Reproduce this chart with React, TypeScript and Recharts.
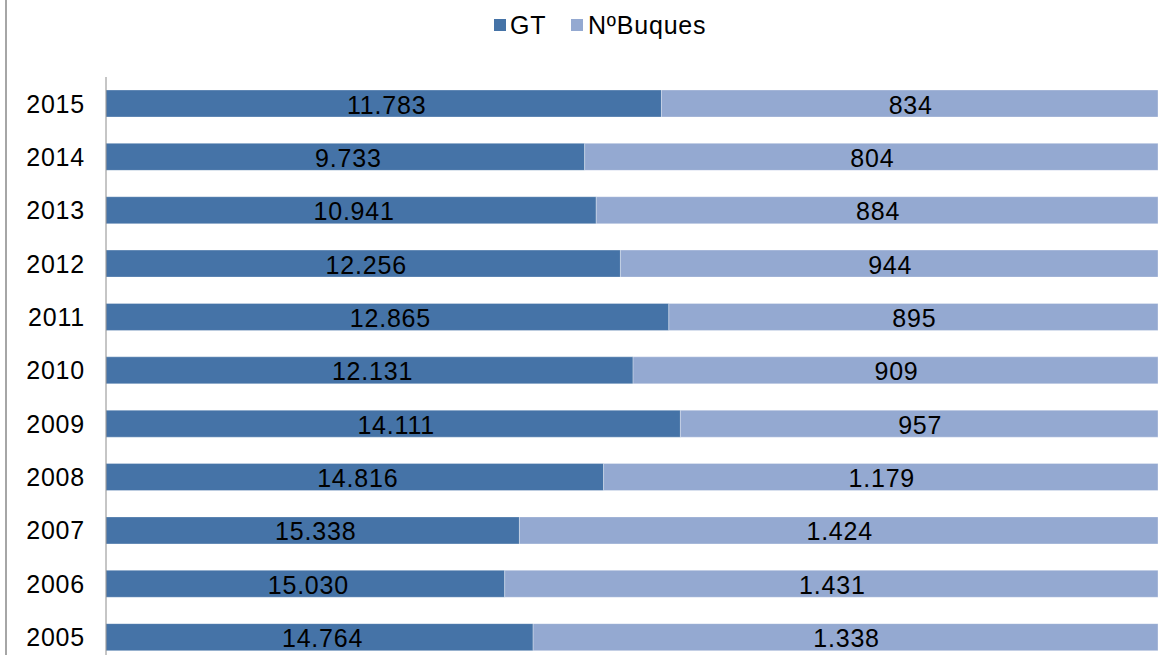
import { BarChart, Bar, XAxis, YAxis, LabelList } from "recharts";

// years top to bottom, as in the picture
const YEARS = ["2015", "2014", "2013", "2012", "2011", "2010", "2009", "2008", "2007", "2006", "2005"];

// printed values on the bars
const GT_LABELS = ["11.783", "9.733", "10.941", "12.256", "12.865", "12.131", "14.111", "14.816", "15.338", "15.030", "14.764"];
const BUQUES_LABELS = ["834", "804", "884", "944", "895", "909", "957", "1.179", "1.424", "1.431", "1.338"];

// share of each bar (%)
const GT_SHARE = [52.8, 45.5, 46.6, 48.9, 53.5, 50.1, 54.6, 47.3, 39.3, 37.9, 40.6];
const BUQUES_SHARE = [47.2, 54.5, 53.4, 51.1, 46.5, 49.9, 45.4, 52.7, 60.7, 62.1, 59.4];

const data = YEARS.map((year, i) => ({
  year,
  gt: GT_SHARE[i],
  buques: BUQUES_SHARE[i],
}));

const FONT = "'Liberation Sans', Arial, sans-serif";
const GT_COLOR = "#4573A7";
const BUQUES_COLOR = "#94A9D1";

function makeLabel(labels: string[], dx: number) {
  return (props: any) => {
    const { x, y, width, height, index } = props;
    return (
      <text
        x={Number(x) + Number(width) / 2 + dx}
        y={Number(y) + Number(height) / 2 + 1}
        textAnchor="middle"
        dominantBaseline="central"
        fontSize={25}
        letterSpacing={0.8}
        fontFamily={FONT}
        fill="#000"
      >
        {labels[index]}
      </text>
    );
  };
}

const legendText = {
  position: "absolute" as const,
  top: 10,
  lineHeight: "30px",
  fontFamily: FONT,
  fontSize: 25,
  letterSpacing: 0.8,
  color: "#000",
  whiteSpace: "nowrap" as const,
};

export default function App() {
  return (
    <div style={{ position: "absolute", left: 0, top: 0, width: 1160, height: 655, overflow: "hidden", background: "#fff" }}>
      <div style={{ position: "absolute", left: 5, top: 0, width: 2, height: 655, background: "#a6a6a6" }} />
      {/* legend */}
      <div style={{ position: "absolute", left: 494, top: 19, width: 12, height: 12, background: GT_COLOR }} />
      <div style={{ ...legendText, left: 510 }}>GT</div>
      <div style={{ position: "absolute", left: 571, top: 19, width: 12, height: 12, background: BUQUES_COLOR }} />
      <div style={{ ...legendText, left: 588 }}>NºBuques</div>
      <BarChart
        width={1160}
        height={664}
        data={data}
        layout="vertical"
        stackOffset="expand"
        barSize={27}
        margin={{ top: 77, right: 2, left: 0, bottom: 0 }}
      >
        <XAxis type="number" hide domain={[0, 1]} />
        <YAxis
          type="category"
          dataKey="year"
          width={106}
          axisLine={{ stroke: "#8c8c8c", strokeWidth: 1 }}
          tickLine={false}
          tickSize={0}
          tickMargin={21}
          tick={{ fontSize: 25, fill: "#000", fontFamily: FONT, letterSpacing: 0.8 }}
        />
        <Bar dataKey="gt" name="GT" stackId="a" fill={GT_COLOR} stroke="rgba(255,255,255,0.3)" strokeWidth={1} isAnimationActive={false}>
          <LabelList content={makeLabel(GT_LABELS, 3)} />
        </Bar>
        <Bar dataKey="buques" name="NºBuques" stackId="a" fill={BUQUES_COLOR} stroke="rgba(255,255,255,0.3)" strokeWidth={1} isAnimationActive={false}>
          <LabelList content={makeLabel(BUQUES_LABELS, 1)} />
        </Bar>
      </BarChart>
    </div>
  );
}
